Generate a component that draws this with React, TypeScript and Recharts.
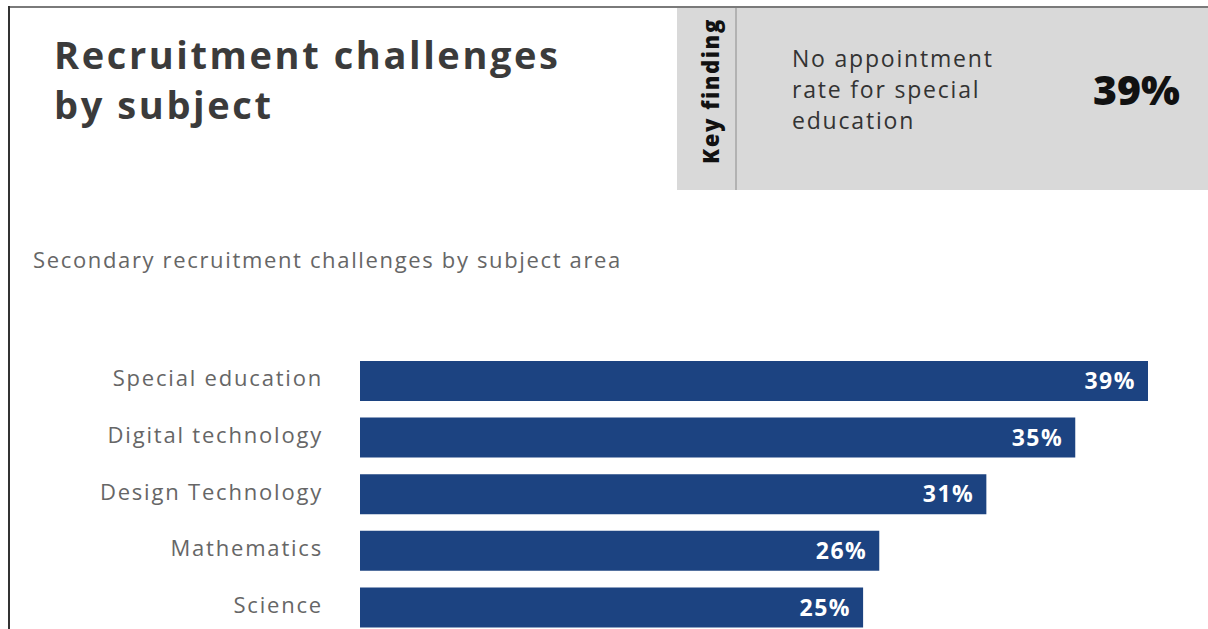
import React from "react";
import { BarChart, Bar, XAxis, YAxis, LabelList } from "recharts";

const categories = [
  "Special education",
  "Digital technology",
  "Design Technology",
  "Mathematics",
  "Science",
];
const values = [39, 35.4, 31, 25.7, 24.9];
const valueLabels = ["39%", "35%", "31%", "26%", "25%"];

const data = categories.map((name, i) => ({ name, value: values[i], label: valueLabels[i] }));

const FONT = "'Open Sans', Lato, sans-serif";

const CategoryTick = (props: any) => {
  const { x, y, payload } = props;
  return (
    <text
      x={x}
      y={y}
      dy={-4}
      textAnchor="end"
      dominantBaseline="central"
      fill="#666"
      fontSize={22}
      fontFamily={FONT}
      letterSpacing={1.8}
    >
      {payload.value}
    </text>
  );
};

export default function App() {
  return (
    <div
      style={{
        position: "absolute",
        left: 0,
        top: 0,
        width: 1208,
        height: 629,
        overflow: "hidden",
        background: "#fff",
        fontFamily: FONT,
      }}
    >
      {/* frame lines */}
      <div style={{ position: "absolute", left: 8, top: 6, width: 1200, height: 2, background: "#7a7a7a" }} />
      <div style={{ position: "absolute", left: 8, top: 6, width: 2, height: 623, background: "#333" }} />

      {/* title */}
      <div
        style={{
          position: "absolute",
          left: 54,
          top: 29,
          fontSize: 38,
          lineHeight: "50px",
          fontWeight: 700,
          letterSpacing: 2.6,
          color: "#3b3b3b",
          whiteSpace: "nowrap",
        }}
      >
        Recruitment challenges
        <br />
        by subject
      </div>

      {/* key finding box */}
      <div style={{ position: "absolute", left: 677, top: 8, width: 531, height: 182, background: "#d9d9d9" }} />
      <div style={{ position: "absolute", left: 735, top: 8, width: 2, height: 182, background: "#b2b2b2" }} />
      <div
        style={{
          position: "absolute",
          left: 710,
          top: 91,
          transform: "translate(-50%, -50%) rotate(-90deg)",
          fontSize: 22,
          fontWeight: 800,
          letterSpacing: 1.6,
          color: "#111",
          whiteSpace: "nowrap",
        }}
      >
        Key finding
      </div>
      <div
        style={{
          position: "absolute",
          left: 792,
          top: 43,
          fontSize: 23,
          lineHeight: "31px",
          letterSpacing: 1.8,
          color: "#333",
          whiteSpace: "nowrap",
        }}
      >
        No appointment
        <br />
        rate for special
        <br />
        education
      </div>
      <div
        style={{
          position: "absolute",
          left: 1093,
          top: 64,
          fontSize: 41,
          lineHeight: "50px",
          fontWeight: 800,
          color: "#111",
        }}
      >
        39%
      </div>

      {/* subtitle */}
      <div
        style={{
          position: "absolute",
          left: 33,
          top: 245,
          fontSize: 22,
          lineHeight: "28px",
          letterSpacing: 1.65,
          color: "#666",
          whiteSpace: "nowrap",
        }}
      >
        Secondary recruitment challenges by subject area
      </div>

      {/* chart */}
      <div style={{ position: "absolute", left: 0, top: 0 }}>
        <BarChart
          width={1208}
          height={636}
          data={data}
          layout="vertical"
          margin={{ top: 353, right: 60, bottom: 0, left: 0 }}
        >
          <XAxis type="number" domain={[0, 39]} hide />
          <YAxis
            type="category"
            dataKey="name"
            width={360}
            axisLine={false}
            tickLine={false}
            tickSize={0}
            tickMargin={37}
            tick={<CategoryTick />}
            interval={0}
          />
          <Bar dataKey="value" fill="#1c4381" barSize={40} isAnimationActive={false}>
            <LabelList
              dataKey="label"
              position="insideRight"
              offset={12}
              fill="#fff"
              style={{ fontSize: 23, fontWeight: 700, fontFamily: FONT, letterSpacing: 1.5 }}
            />
          </Bar>
        </BarChart>
      </div>
    </div>
  );
}
